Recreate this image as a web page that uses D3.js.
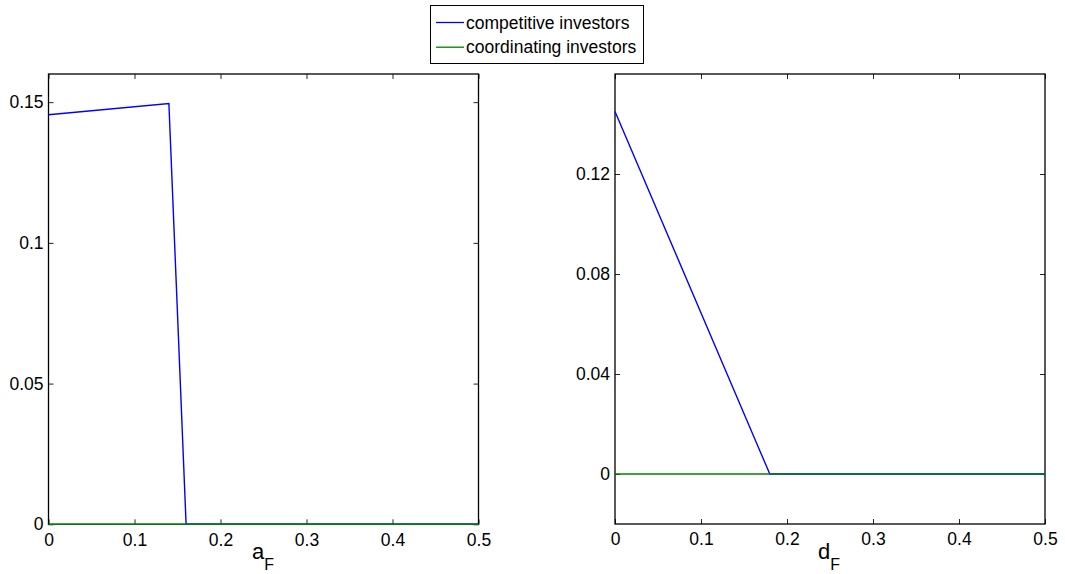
<!DOCTYPE html>
<html><head><meta charset="utf-8">
<script src="https://cdn.jsdelivr.net/npm/d3@7"></script>
<style>body{margin:0;background:#fff}svg{display:block}text{font-family:"Liberation Sans",Arial,Helvetica,sans-serif;fill:#000}</style>
</head><body><svg id="c" width="1065" height="574"></svg>
<script>
// data
const seriesNames = ["competitive investors", "coordinating investors"];
const seriesColors = ["#0000ff", "#008000"];
// left panel: x = a_F
const leftCompetitiveX = [0, 0.14, 0.16, 0.5];
const leftCompetitiveY = [0.1455, 0.1495, 0, 0];
const leftCoordinatingX = [0, 0.5];
const leftCoordinatingY = [0, 0];
const leftXTicks = [0, 0.1, 0.2, 0.3, 0.4, 0.5];
const leftYTicks = [0, 0.05, 0.1, 0.15];
const leftYTickLabels = ["0", "0.05", "0.1", "0.15"];
// right panel: x = d_F
const rightCompetitiveX = [0, 0.18, 0.5];
const rightCompetitiveY = [0.145, 0, 0];
const rightCoordinatingX = [0, 0.5];
const rightCoordinatingY = [0, 0];
const rightXTicks = [0, 0.1, 0.2, 0.3, 0.4, 0.5];
const rightYTicks = [0, 0.04, 0.08, 0.12];
const rightYTickLabels = ["0", "0.04", "0.08", "0.12"];

const svg = d3.select("#c");
const FS = "17.5px";

function panel(opt) {
  const x = d3.scaleLinear().domain(opt.xDomain).range([opt.left, opt.right]);
  const y = d3.scaleLinear().domain(opt.yDomain).range([opt.bottom, opt.top]);
  const g = svg.append("g");
  const tickLen = 5;
  const axB = d3.axisBottom(x).tickValues(opt.xTicks).tickSize(-tickLen).tickPadding(9).tickFormat(d => d === 0 ? "0" : d3.format(".1f")(d));
  const axT = d3.axisTop(x).tickValues(opt.xTicks).tickSize(-tickLen).tickFormat("");
  const axL = d3.axisLeft(y).tickValues(opt.yTicks).tickSize(-tickLen).tickPadding(5).tickFormat((d, i) => opt.yLabels[i]);
  const axR = d3.axisRight(y).tickValues(opt.yTicks).tickSize(-tickLen).tickFormat("");
  const gb = g.append("g").attr("transform", `translate(0,${opt.bottom})`).call(axB);
  const gt = g.append("g").attr("transform", `translate(0,${opt.top})`).call(axT);
  const gl = g.append("g").attr("transform", `translate(${opt.left},0)`).call(axL);
  const gr = g.append("g").attr("transform", `translate(${opt.right},0)`).call(axR);
  [gb, gt, gl, gr].forEach(a => {
    a.select(".domain").remove();
    a.selectAll("line").attr("stroke", "#262626").attr("stroke-width", 1);
    a.selectAll("text").style("font-size", FS).style("font-family", '"Liberation Sans",Arial,sans-serif').attr("fill", "#000");
  });
  gb.selectAll("text").attr("dy", "0.71em");
  g.append("rect").attr("x", opt.left).attr("y", opt.top)
    .attr("width", opt.right - opt.left).attr("height", opt.bottom - opt.top)
    .attr("fill", "none").attr("stroke", "#000").attr("stroke-width", 1.3);
  const line = d3.line().x(d => x(d[0])).y(d => y(d[1]));
  opt.series.forEach(s => {
    g.append("path").datum(d3.zip(s.x, s.y)).attr("d", line)
      .attr("fill", "none").attr("stroke", seriesColors[s.idx]).attr("stroke-width", 1.4);
  });
  const t = g.append("text").attr("x", opt.labelX).attr("y", 559).style("font-size", "22px");
  t.append("tspan").text(opt.labelMain);
  t.append("tspan").attr("dy", 11).style("font-size", "16px").text("F");
}

panel({
  left: 48.5, right: 478.5, top: 74, bottom: 524.3,
  xDomain: [0, 0.5], yDomain: [0, 0.16],
  xTicks: leftXTicks, yTicks: leftYTicks, yLabels: leftYTickLabels,
  labelX: 252, labelMain: "a",
  series: [
    {idx: 0, x: leftCompetitiveX, y: leftCompetitiveY},
    {idx: 1, x: leftCoordinatingX, y: leftCoordinatingY}
  ]
});
panel({
  left: 615, right: 1045, top: 74, bottom: 524,
  xDomain: [0, 0.5], yDomain: [-0.02, 0.16],
  xTicks: rightXTicks, yTicks: rightYTicks, yLabels: rightYTickLabels,
  labelX: 818, labelMain: "d",
  series: [
    {idx: 0, x: rightCompetitiveX, y: rightCompetitiveY},
    {idx: 1, x: rightCoordinatingX, y: rightCoordinatingY}
  ]
});

// legend
const lg = svg.append("g");
lg.append("rect").attr("x", 430.5).attr("y", 5.5).attr("width", 213).attr("height", 58)
  .attr("fill", "#fff").attr("stroke", "#000").attr("stroke-width", 1);
seriesNames.forEach((n, i) => {
  const yy = 22.5 + i * 24.7;
  lg.append("line").attr("x1", 436).attr("x2", 464).attr("y1", yy).attr("y2", yy)
    .attr("stroke", seriesColors[i]).attr("stroke-width", 1.3);
  lg.append("text").attr("x", 466).attr("y", yy).attr("dy", "0.35em").style("font-size", FS).text(n);
});
</script></body></html>
